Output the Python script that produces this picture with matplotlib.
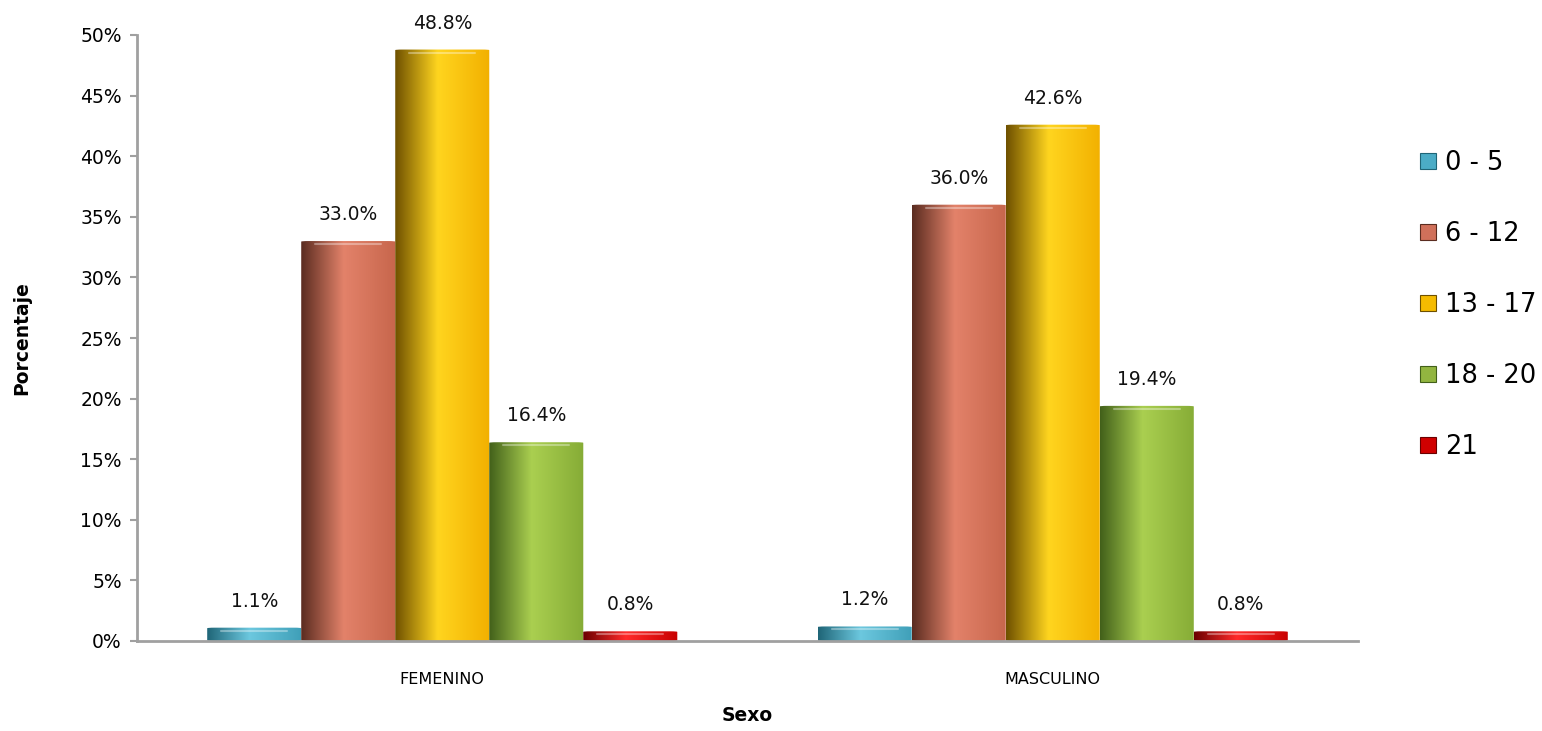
import numpy as np
import matplotlib
matplotlib.use('Agg')
import matplotlib.pyplot as plt
from matplotlib.colors import LinearSegmentedColormap
from matplotlib.patches import Patch, FancyBboxPatch

plt.rcParams['font.family'] = ['DejaVu Sans']

sexos = ['FEMENINO', 'MASCULINO']
grupos = ['0 - 5', '6 - 12', '13 - 17', '18 - 20', '21']
femenino = [1.1, 33.0, 48.8, 16.4, 0.8]
masculino = [1.2, 36.0, 42.6, 19.4, 0.8]
yticks = [0, 5, 10, 15, 20, 25, 30, 35, 40, 45, 50]

# dark edge, highlight, right-side tone, base (legend)
paletas = [
    ('#1f6577', '#6cc8df', '#3f9fb8', '#4bacc6'),
    ('#5a2c20', '#e3826a', '#c7664c', '#d0705a'),
    ('#6e5000', '#ffd51f', '#f2b000', '#f5bb00'),
    ('#42601a', '#aacf50', '#86ac36', '#92b540'),
    ('#6a0000', '#ff2a2a', '#c80000', '#d00000'),
]

fig = plt.figure(figsize=(15.42, 7.31), dpi=100)
ax = fig.add_axes([137/1542, 1-641/731, (1358-137)/1542, (641-35)/731])

valores = np.array([femenino, masculino])
n = len(grupos)
w = 0.154
x = np.arange(len(sexos))

for j in range(n):
    c0, c1, c2, _ = paletas[j]
    cmap = LinearSegmentedColormap.from_list('g%d' % j, [(0, c0), (0.45, c1), (1, c2)])
    grad = np.linspace(0, 1, 256).reshape(1, -1)
    for i in range(len(sexos)):
        left = x[i] + (j - n/2) * w
        h = valores[i, j]
        patch = FancyBboxPatch((left, 0), w, h, boxstyle='round,pad=0,rounding_size=0.012',
                               mutation_aspect=4, facecolor='none', edgecolor='none')
        ax.add_patch(patch)
        im = ax.imshow(grad, extent=(left, left + w, 0, h), aspect='auto', cmap=cmap,
                       origin='lower', zorder=2)
        im.set_clip_path(patch)
        # soft rim at the top of the cylinder
        ax.plot([left + w*0.15, left + w*0.85], [h - 0.25, h - 0.25], color='white',
                alpha=0.35, lw=1.5, zorder=3, solid_capstyle='round')
        ax.text(left + w/2, h + 1.4, '%.1f%%' % h, ha='center', va='bottom', fontsize=13.5,
                color='#111111')

ax.set_xlim(-0.5, 1.5)
ax.set_ylim(0, 50)
ax.set_yticks(yticks)
ax.set_yticklabels(['%d%%' % t for t in yticks], fontsize=13.5)
ax.set_xticks(x)
ax.set_xticklabels(sexos, fontsize=11.5)
ax.tick_params(axis='x', length=0, pad=22)
ax.tick_params(axis='y', length=5, width=1.5, color='#a0a0a0', direction='out', pad=6)
for s in ['top', 'right']:
    ax.spines[s].set_visible(False)
for s in ['left', 'bottom']:
    ax.spines[s].set_color('#a0a0a0')
    ax.spines[s].set_linewidth(2)
ax.set_ylabel('Porcentaje', fontsize=13.5, fontweight='bold')
ax.set_xlabel('Sexo', fontsize=13.5, fontweight='bold')
ax.yaxis.set_label_coords(-0.087, 0.5)
ax.xaxis.set_label_coords(0.5, -0.108)

handles = [Patch(facecolor=p[3], edgecolor=p[0], linewidth=0.8) for p in paletas]
fig.legend(handles, grupos, loc='upper left', bbox_to_anchor=(1410/1542, 1-140/731),
           frameon=False, fontsize=18.5, handlelength=0.6, handleheight=0.6,
           handletextpad=0.35, labelspacing=1.75, borderaxespad=0)

fig.savefig('out.png', dpi=100)
